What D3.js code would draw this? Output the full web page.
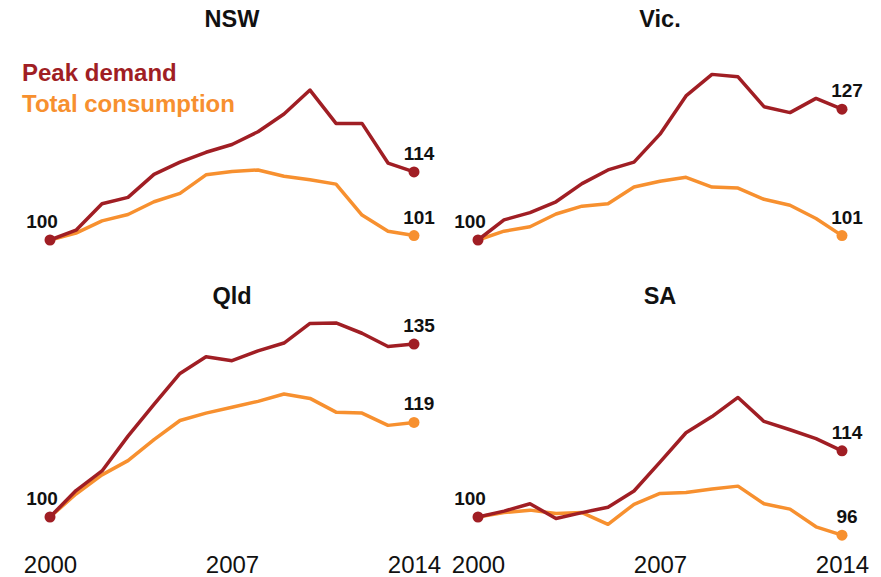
<!DOCTYPE html>
<html>
<head>
<meta charset="utf-8">
<script src="https://cdn.jsdelivr.net/npm/d3@7"></script>
<style>
  body { margin: 0; background: #fff; }
  svg { display: block; font-family: 'Liberation Sans', Arial, sans-serif; }
</style>
</head>
<body>
<div id="chart"></div>
<script>
// Data: index, 2000 = 100
var years = d3.range(2000, 2015);
var tickYears = [2000, 2007, 2014];
var regions = ['NSW', 'Vic.', 'Qld', 'SA'];

var nswPeak  = [100, 102.0, 107.4, 108.7, 113.4, 115.9, 117.9, 119.5, 122.1, 125.7, 130.6, 123.8, 123.8, 115.7, 113.9];
var nswTotal = [100, 101.4, 103.9, 105.2, 107.8, 109.5, 113.3, 114.0, 114.3, 113.0, 112.3, 111.4, 105.1, 101.8, 100.9];
var vicPeak  = [100, 104.1, 105.6, 107.8, 111.5, 114.3, 115.9, 121.6, 129.4, 133.8, 133.3, 127.2, 126.0, 128.9, 126.7];
var vicTotal = [100, 101.8, 102.7, 105.3, 106.9, 107.4, 110.8, 112.0, 112.8, 110.8, 110.6, 108.3, 107.1, 104.4, 100.9];
var qldPeak  = [100, 105.4, 109.4, 116.5, 123.0, 129.3, 132.7, 131.9, 133.9, 135.5, 139.5, 139.6, 137.5, 134.8, 135.3];
var qldTotal = [100, 104.7, 108.6, 111.5, 115.8, 119.7, 121.2, 122.4, 123.6, 125.1, 124.2, 121.4, 121.2, 118.7, 119.3];
var saPeak   = [100, 101.2, 102.7, 99.7, 100.9, 102.0, 105.3, 111.2, 117.2, 120.5, 124.4, 119.5, 117.8, 116.0, 113.5];
var saTotal  = [100, 100.9, 101.4, 100.7, 100.9, 98.5, 102.6, 104.8, 105.0, 105.7, 106.3, 102.7, 101.6, 98.0, 96.3];

var peakSeries = [nswPeak, vicPeak, qldPeak, saPeak];
var totalSeries = [nswTotal, vicTotal, qldTotal, saTotal];
var seriesNames = ['Peak demand', 'Total consumption'];

var attrs = {
  svgWidth: 881,
  svgHeight: 577,
  peakColor: '#a01e24',
  totalColor: '#f7902f',
  textColor: '#111',
  lineWidth: 3.5,
  dotRadius: 5.5
};

var svg = d3.select('#chart').append('svg')
  .attr('width', attrs.svgWidth)
  .attr('height', attrs.svgHeight);

// panel placement (col, row)
var panelOffsetX = [0, 428];
var panelOffsetY = [0, 277];

var x = d3.scaleLinear().domain([2000, 2014]).range([50, 414]);
var y = d3.scaleLinear().domain([95, 140]).range([264.5, 44]);

var line = d3.line()
  .x(function (d, i) { return x(years[i]); })
  .y(function (d) { return y(d); });

regions.forEach(function (name, i) {
  var col = i % 2, row = Math.floor(i / 2);
  var g = svg.append('g')
    .attr('transform', 'translate(' + panelOffsetX[col] + ',' + panelOffsetY[row] + ')');

  //title
  g.append('text')
    .attr('x', (x.range()[0] + x.range()[1]) / 2)
    .attr('y', 27)
    .attr('text-anchor', 'middle')
    .attr('font-size', 23.5)
    .attr('font-weight', 'bold')
    .attr('fill', attrs.textColor)
    .text(name);

  var sets = [
    { values: totalSeries[i], color: attrs.totalColor },
    { values: peakSeries[i], color: attrs.peakColor }
  ];

  sets.forEach(function (s) {
    g.append('path')
      .datum(s.values)
      .attr('d', line)
      .attr('fill', 'none')
      .attr('stroke', s.color)
      .attr('stroke-width', attrs.lineWidth)
      .attr('stroke-linejoin', 'round');
  });

  // start dot
  g.append('circle')
    .attr('cx', x(years[0]))
    .attr('cy', y(peakSeries[i][0]))
    .attr('r', attrs.dotRadius)
    .attr('fill', attrs.peakColor);

  g.append('text')
    .attr('x', x(years[0]) - 8)
    .attr('y', y(peakSeries[i][0]) - 12)
    .attr('text-anchor', 'middle')
    .attr('font-size', 19)
    .attr('font-weight', 'bold')
    .attr('fill', attrs.textColor)
    .text(Math.round(peakSeries[i][0]));

  // end dots + labels
  sets.forEach(function (s) {
    var last = s.values[s.values.length - 1];
    g.append('circle')
      .attr('cx', x(years[years.length - 1]))
      .attr('cy', y(last))
      .attr('r', attrs.dotRadius)
      .attr('fill', s.color);
    g.append('text')
      .attr('x', x(years[years.length - 1]) + 5)
      .attr('y', y(last) - 12)
      .attr('text-anchor', 'middle')
      .attr('font-size', 19)
      .attr('font-weight', 'bold')
      .attr('fill', attrs.textColor)
      .text(Math.round(last));
  });

  // x axis only on bottom row
  if (row === 1) {
    var axis = g.append('g')
      .attr('transform', 'translate(0,' + (553 - panelOffsetY[row]) + ')')
      .call(d3.axisBottom(x).tickValues(tickYears).tickSize(0).tickFormat(d3.format('d')));
    axis.select('.domain').remove();
    axis.selectAll('text')
      .attr('font-size', 24)
      .attr('font-family', "'Liberation Sans', Arial, sans-serif")
      .attr('fill', attrs.textColor);
  }
});

// legend
var legendColors = [attrs.peakColor, attrs.totalColor];
svg.selectAll('.legend')
  .data(seriesNames)
  .enter().append('text')
  .attr('class', 'legend')
  .attr('x', 22)
  .attr('y', function (d, i) { return 81 + i * 31; })
  .attr('font-size', 24)
  .attr('font-weight', 'bold')
  .attr('fill', function (d, i) { return legendColors[i]; })
  .text(function (d) { return d; });
</script>
</body>
</html>
